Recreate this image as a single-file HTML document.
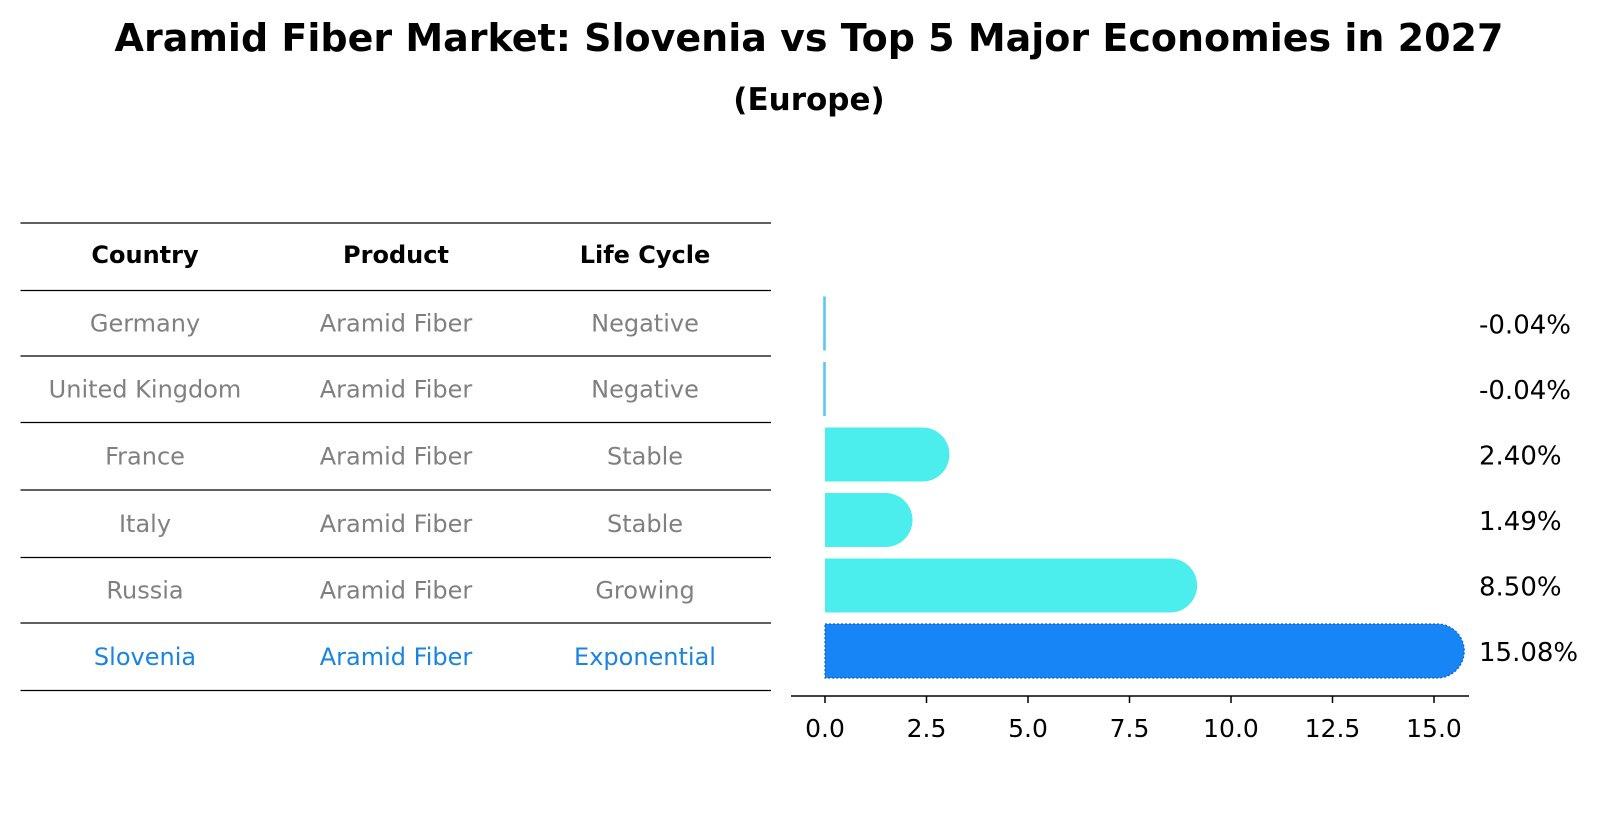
<!DOCTYPE html>
<html><head><meta charset="utf-8"><style>
body{margin:0;background:#fff;font-family:"DejaVu Sans","Liberation Sans",sans-serif;}
svg text{font-family:"DejaVu Sans","Liberation Sans",sans-serif;}
</style></head><body>
<svg width="1604" height="823" viewBox="0 0 1604 823" xmlns="http://www.w3.org/2000/svg">
<text x="809" y="51" text-anchor="middle" font-size="38" font-weight="bold">Aramid Fiber Market: Slovenia vs Top 5 Major Economies in 2027</text>
<text x="809" y="110" text-anchor="middle" font-size="31" font-weight="bold">(Europe)</text>
<g id="table"></g>
<g id="bars"></g>
</svg>
<script>
const countries=["Germany","United Kingdom","France","Italy","Russia","Slovenia"];
const products=["Aramid Fiber","Aramid Fiber","Aramid Fiber","Aramid Fiber","Aramid Fiber","Aramid Fiber"];
const lifecycle=["Negative","Negative","Stable","Stable","Growing","Exponential"];
const values=[-0.04,-0.04,2.40,1.49,8.50,15.08];
const valueLabels=["-0.04%","-0.04%","2.40%","1.49%","8.50%","15.08%"];
const ticks=[0,2.5,5,7.5,10,12.5,15];
const NS="http://www.w3.org/2000/svg";
function mk(t,a,p){const e=document.createElementNS(NS,t);for(const k in a)e.setAttribute(k,a[k]);p.appendChild(e);return e;}
// table
const tb=document.getElementById('table');
const lineY=[223,290.5,356,422.5,490,557.5,623,690.5];
lineY.forEach((y,i)=>{const l=mk('line',{x1:20.5,x2:771,y1:y,y2:y,stroke:'#000','stroke-width':1.2},tb);

});
const colX=[145,396,645];
["Country","Product","Life Cycle"].forEach((h,i)=>{const t=mk('text',{x:colX[i],y:263,'text-anchor':'middle','font-size':24,'font-weight':'bold'},tb);t.textContent=h;

});
countries.forEach((c,r)=>{const y=(lineY[r+1]+lineY[r+2])/2+8;const col=r===5?'#1a84e0':'#808080';
[c,products[r],lifecycle[r]].forEach((v,i)=>{const t=mk('text',{x:colX[i],y:y,'text-anchor':'middle','font-size':24,fill:col},tb);t.textContent=v;

});});
// bars
const bg=document.getElementById('bars');
const x0=825,unit=40.6;const X=v=>x0+v*unit;
const yc=i=>651-(5-i)*65.5;const h=54;
mk('line',{x1:791,x2:1469,y1:696,y2:696,stroke:'#000','stroke-width':1.5},bg);
ticks.forEach(t=>{const l=mk('line',{x1:X(t),x2:X(t),y1:696,y2:703,stroke:'#000','stroke-width':1.5},bg);


const tx=mk('text',{x:X(t),y:737,'text-anchor':'middle','font-size':25},bg);tx.textContent=t.toFixed(1);

});
values.forEach((v,i)=>{const c=yc(i),top=c-h/2;let el;
if(v<=0){el=mk('rect',{x:X(v)-0.2,y:top,width:Math.max(1.5,X(0)-X(v)+1),height:h,fill:'#5bc8f0'},bg);}
else{const xe=X(v);const r=h/2;const col=i===5?'#1785f5':'#4beded';
el=mk('path',{d:`M${x0},${top} L${xe},${top} A${r},${r} 0 0 1 ${xe},${top+h} L${x0},${top+h} Z`,fill:col},bg);
if(i===5){el.setAttribute('stroke','#1060c0');el.setAttribute('stroke-dasharray','2,2');el.setAttribute('stroke-width','1.2');}}


const t=mk('text',{x:1479,y:c+10,'font-size':26},bg);t.textContent=valueLabels[i];

});
</script>
</body></html>
